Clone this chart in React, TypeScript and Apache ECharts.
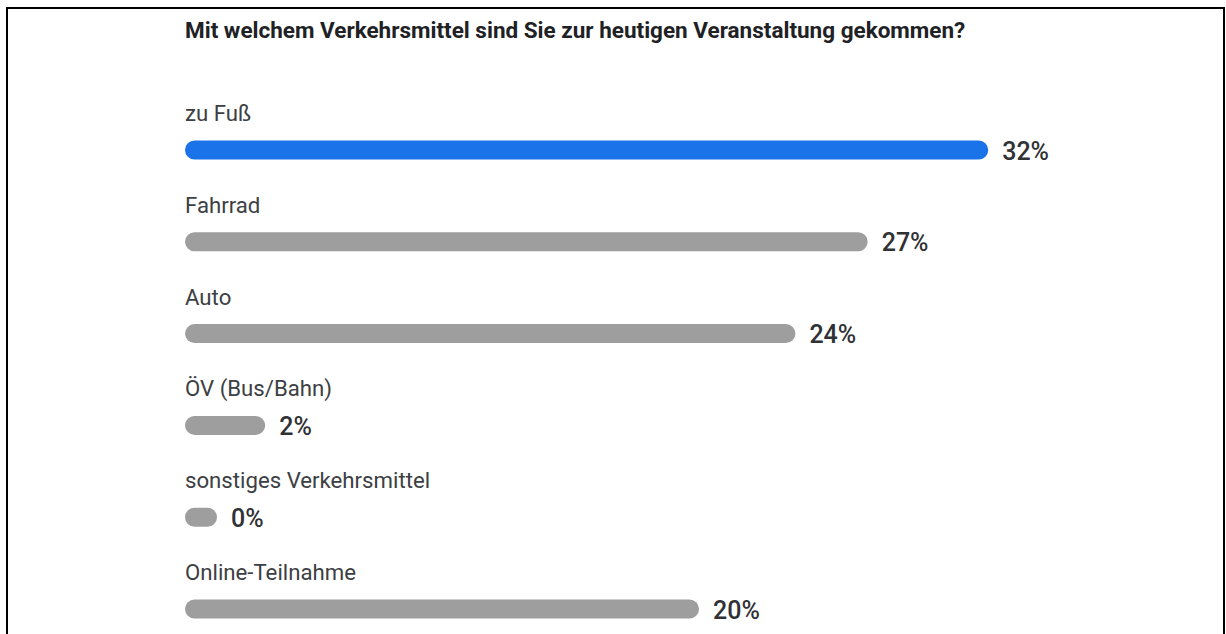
import React, { useEffect, useRef } from "react";
import * as echarts from "echarts";

const title = "Mit welchem Verkehrsmittel sind Sie zur heutigen Veranstaltung gekommen?";
const categories = [
  "zu Fuß",
  "Fahrrad",
  "Auto",
  "ÖV (Bus/Bahn)",
  "sonstiges Verkehrsmittel",
  "Online-Teilnahme",
];
const values = [32, 27, 24, 2, 0, 20];
const highlightIndex = 0;

export default function App() {
  const ref = useRef<HTMLDivElement>(null);
  useEffect(() => {
    if (!ref.current) return;
    const chart = echarts.init(ref.current, undefined, { renderer: "svg" });
    const CAP = 32;
    const BAR_H = 19;
    chart.setOption({
      animation: false,
      backgroundColor: "#ffffff",
      graphic: [
        {
          type: "rect",
          shape: { x: 7, y: 8, width: 1217, height: 700 },
          style: { fill: "none", stroke: "#000", lineWidth: 2 },
          silent: true,
        },
        {
          type: "text",
          x: 185,
          y: 30,
          style: {
            text: title,
            fontFamily: "Roboto",
            fontSize: 22.5,
            fontWeight: "bold",
            fill: "#202124",
            verticalAlign: "middle",
            align: "left",
          },
        },
      ],
      grid: { left: 217, top: 150, width: 964, height: 459 },
      xAxis: { type: "value", min: 0, max: 40, show: false },
      yAxis: { type: "value", min: 0, max: 5, inverse: true, show: false },
      series: [
        {
          type: "custom",
          data: values.map((v, i) => [v, i]),
          encode: { x: 0, y: 1 },
          renderItem: (params: any, api: any) => {
            const v = api.value(0);
            const idx = api.value(1);
            const p0 = api.coord([0, idx]);
            const p1 = api.coord([v, idx]);
            const x0 = p0[0] - CAP;
            const w = p1[0] - x0;
            const yc = p0[1];
            return {
              type: "group",
              children: [
                {
                  type: "rect",
                  shape: { x: x0, y: yc - BAR_H / 2, width: w, height: BAR_H, r: BAR_H / 2 },
                  style: { fill: idx === highlightIndex ? "#1a73e8" : "#9e9e9e" },
                },
                {
                  type: "text",
                  x: x0,
                  y: yc - 37,
                  style: {
                    text: categories[idx],
                    fontFamily: "Roboto",
                    fontSize: 22.2,
                    fill: "#3c4043",
                    verticalAlign: "middle",
                    align: "left",
                  },
                },
                {
                  type: "text",
                  x: p1[0] + 14,
                  y: yc + 1,
                  style: {
                    text: v + "%",
                    fontFamily: "Roboto",
                    fontSize: 25,
                    fontWeight: 500,
                    fill: "#303134",
                    verticalAlign: "middle",
                    align: "left",
                  },
                },
              ],
            };
          },
        },
      ],
    });
    return () => chart.dispose();
  }, []);
  return (
    <div
      ref={ref}
      style={{ position: "fixed", left: 0, top: 0, width: 1226, height: 634 }}
    />
  );
}
